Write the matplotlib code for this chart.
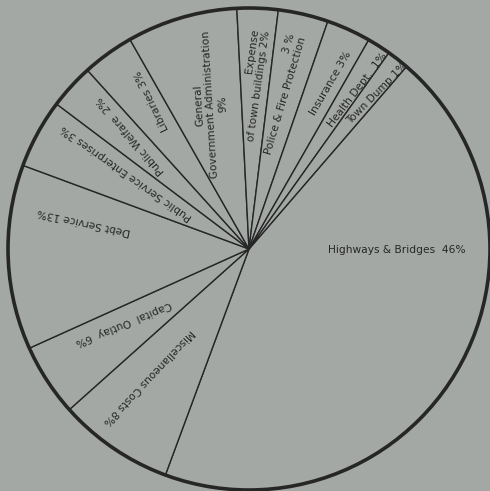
import numpy as np
import matplotlib
matplotlib.use("Agg")
import matplotlib.pyplot as plt

# ----------------------------------------------------------------------
# Data: town expenditure shares (labels carry the printed percentages;
# the hand-drawn slices are not to scale, so slice sizes are read off
# the drawing in degrees)
# ----------------------------------------------------------------------
categories = [
    "Highways & Bridges", "Miscellaneous Costs", "Capital Outlay",
    "Debt Service", "Public Service Enterprises", "Public Welfare",
    "Libraries", "General Government Administration",
    "Expense of town buildings", "Police & Fire Protection",
    "Insurance", "Health Dept.", "Town Dump",
]
percent = [46, 8, 6, 13, 3, 2, 3, 9, 2, 3, 3, 1, 1]
slice_deg = [159.5, 27.9, 17.5, 44.6, 16.7, 10.9, 12.5, 26.7, 9.9, 12.1,
             10.7, 5.7, 5.3]
label_text = [
    "Highways & Bridges  46%",
    "Miscellaneous Costs 8%",
    "Capital  Outlay  6%",
    "Debt Service 13%",
    "Public Service Enterprises 3%",
    "Public Welfare  2%",
    "Libraries 3%",
    "General\nGovernment Administration\n9%",
    "Expense\nof town buildings 2%",
    "3 %\nPolice & Fire Protection",
    "Insurance 3%",
    "Health Dept.  1%",
    "Town Dump 1%",
]

# label layout (polar position in pie units, text rotation in degrees)
label_angle = [-0.4, 232.0, 210.4, 170.7, 148.3, 136.0, 123.2, 104.8,
               88.6, 78.7, 63.7, 55.8, 50.6]
label_radius = [0.614, 0.674, 0.606, 0.694, 0.599, 0.681, 0.734, 0.619,
                0.680, 0.656, 0.768, 0.798, 0.837]
label_rot = [0, 226.6, 202.4, 167.7, 144.9, 130.5, 115.8, 93.5, 81.9,
             73.4, 59.7, 52.6, 45.5]
label_align = ["center"] * 7 + ["center", "right", "right"] + ["center"] * 3

BG = "#a4a8a5"
INK = "#262626"

W, H = 490, 491
CX, CY, R = 249, 249, 241

fig = plt.figure(figsize=(W / 100, H / 100), dpi=100, facecolor=BG)
ax = fig.add_axes([0, 0, 1, 1])
ax.set_facecolor(BG)

ax.pie(
    slice_deg,
    startangle=49.2,
    counterclock=False,
    colors=[BG] * len(slice_deg),
    wedgeprops=dict(edgecolor=INK, linewidth=1.0),
    radius=1.0,
)
ax.add_patch(plt.Circle((0, 0), 1.0, fill=False, edgecolor=INK, lw=2.6))

for i, txt in enumerate(label_text):
    a = np.deg2rad(label_angle[i])
    x = label_radius[i] * np.cos(a)
    y = label_radius[i] * np.sin(a)
    ax.text(
        x, y, txt,
        rotation=label_rot[i], rotation_mode="anchor",
        ha="center", va="center", multialignment=label_align[i],
        fontsize=7.7 if i == 0 else 7.6,
        color=INK, family="DejaVu Sans", linespacing=1.25,
    )

ax.set_xlim(-CX / R, (W - CX) / R)
ax.set_ylim(-(H - CY) / R, CY / R)
ax.set_aspect("equal")
ax.axis("off")

fig.savefig("out.png", dpi=100, facecolor=BG)
